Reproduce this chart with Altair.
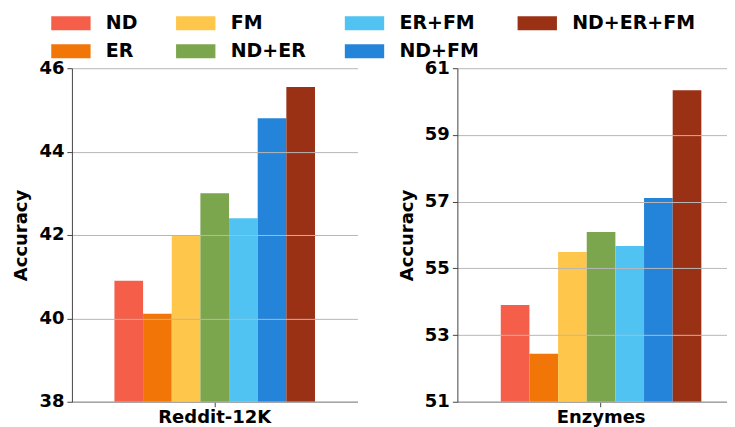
import altair as alt
import pandas as pd

methods = ["ND", "ER", "FM", "ND+ER", "ER+FM", "ND+FM", "ND+ER+FM"]
colors = ["#F55F4A", "#F27508", "#FEC64B", "#7BA64E", "#50C3F2", "#2484D9", "#9B3114"]
legend_order = ["ND", "FM", "ER+FM", "ND+ER+FM", "ER", "ND+ER", "ND+FM"]
reddit_acc = [40.9, 40.11, 42.0, 43.0, 42.4, 44.8, 45.55]
enzymes_acc = [53.9, 52.44, 55.49, 56.09, 55.67, 57.11, 60.34]
reddit_ticks = [38, 40, 42, 44, 46]
enzymes_ticks = [51, 53, 55, 57, 59, 61]

color_map = dict(zip(methods, colors))
legend_colors = [color_map[m] for m in legend_order]

FONT = "DejaVu Sans"


def panel(name, vals, ticks, width, pad_outer, align, show_legend):
    df = pd.DataFrame({"dataset": [name] * len(methods), "method": methods, "acc": vals})
    color_scale = alt.Scale(domain=legend_order, range=legend_colors)
    if show_legend:
        color = alt.Color("method:N", scale=color_scale, legend=alt.Legend(
            title=None, orient="none", legendX=-11, legendY=-55, columns=4,
            direction="horizontal",
            symbolType="M-1.97,-0.7L1.97,-0.7L1.97,0.7L-1.97,0.7Z", symbolSize=400,
            symbolStrokeWidth=0, labelFont=FONT, labelFontSize=19,
            labelFontWeight="bold", labelColor="black", labelOffset=25,
            columnPadding=38, rowPadding=8,
        ))
    else:
        color = alt.Color("method:N", scale=color_scale, legend=None)
    return alt.Chart(df).mark_bar(clip=True).encode(
        x=alt.X("dataset:N", title=None,
                scale=alt.Scale(paddingOuter=pad_outer, paddingInner=0, align=align),
                axis=alt.Axis(labelAngle=0, labelFont=FONT, labelFontSize=18,
                              labelFontWeight="bold", labelColor="black",
                              grid=False, domainColor="#444444", tickColor="#444444",
                              tickSize=5, labelPadding=2)),
        xOffset=alt.XOffset("method:N", sort=methods,
                            scale=alt.Scale(paddingInner=0, paddingOuter=0)),
        y=alt.Y("acc:Q", title="Accuracy",
                scale=alt.Scale(domain=[ticks[0], ticks[-1]], nice=False, zero=False),
                axis=alt.Axis(values=ticks, format="d", zindex=1, grid=True,
                              gridColor="#b8b8b8", gridWidth=1,
                              labelFont=FONT, labelFontSize=18, labelFontWeight="bold",
                              labelColor="black", titleFont=FONT, titleFontSize=18,
                              titleFontWeight="bold", titleColor="black",
                              domainColor="#444444", tickColor="#444444", tickSize=5,
                              labelPadding=3, titlePadding=8)),
        color=color,
    ).properties(width=width, height=334)


left = panel("Reddit-12K", reddit_acc, reddit_ticks, 286, 0.212, 0.5, True)
right = panel("Enzymes", enzymes_acc, enzymes_ticks, 270, 0.1716, 0.63, False)

chart = alt.hconcat(left, right, spacing=40).configure_view(stroke=None).properties(
    padding={"left": 4, "top": 5, "right": 0, "bottom": 5}
)

chart.save("out.html", embed_options={"renderer": "svg", "actions": False})
